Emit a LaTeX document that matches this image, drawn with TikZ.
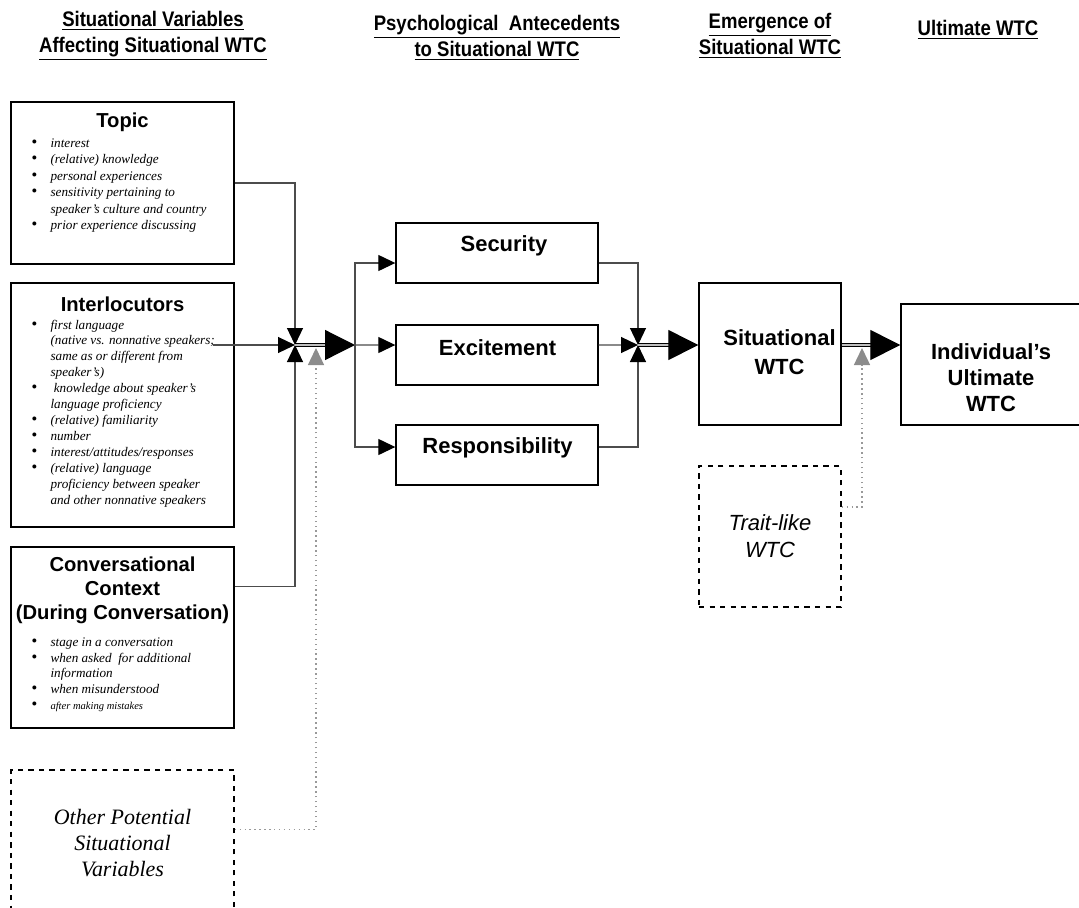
\documentclass[tikz,border=0pt]{standalone}
\usepackage{fontspec}
\setmainfont{Liberation Sans}
\newfontfamily\timesfont[Ligatures=TeX]{Liberation Serif}
\newfontfamily\headfont[FakeStretch=0.88]{Liberation Sans}
\usetikzlibrary{arrows.meta}
\def\bl{{\fontsize{9.5}{9}\selectfont\textbullet}}

\tikzset{
  box/.style={draw, line width=0.8pt, inner sep=0pt},
  dbox/.style={box, dashed},
  con/.style={draw=black!70, line width=0.7pt},
  dotcon/.style={draw=black!40, line width=0.8pt, dotted},
  sm/.style={-{Triangle[length=0.34cm,width=0.32cm,color=black]}},
  smgray/.style={-{Triangle[length=0.34cm,width=0.32cm,color=black!45]}},
  big/.style={draw=black, double=black!25, double distance=0.9pt, line width=0.7pt,
    -{Triangle[length=0.6cm,width=0.6cm,color=black]}},
  head/.style={align=center, font=\headfont\bfseries\fontsize{12}{14.8}\selectfont},
  ttl/.style={align=center, font=\bfseries\fontsize{11.5}{13.7}\selectfont},
  mid/.style={align=center, font=\bfseries\fontsize{12.5}{16.5}\selectfont},
  lst/.style={anchor=base west, inner sep=0pt, font=\timesfont\itshape\fontsize{7.5}{9.1}\selectfont}
}

\begin{document}
\begin{tikzpicture}[x=0.02cm, y=-0.02cm]
\useasboundingbox (0,0) rectangle (1079,907);

%% headings
\node[head] (h-sit) at (153,36) {\underline{Situational Variables}\\\underline{Affecting Situational WTC}};
\node[head] (h-psy) at (497,38) {\underline{Psychological\ \ Antecedents}\\\underline{to Situational WTC}};
\node[head] (h-emg) at (770,36) {\underline{Emergence of}\\\underline{Situational WTC}};
\node[head] (h-ult) at (978,30) {\underline{Ultimate WTC}};

%%% situational variables %%%%
%% boxes
\node[box, minimum width=4.46cm, minimum height=3.24cm] (topic) at (122.5,183) {};
\node[box, minimum width=4.46cm, minimum height=4.88cm] (inter) at (122.5,405) {};
\node[box, minimum width=4.46cm, minimum height=3.62cm] (context) at (122.5,637.5) {};
\node[dbox, minimum width=4.46cm, minimum height=2.92cm, align=center,
  font=\timesfont\itshape\fontsize{12.5}{14.8}\selectfont] (other) at (122.5,843)
  {Other Potential\\Situational\\Variables};

%% labels
\node[ttl] (topic-t) at (122.5,122) {Topic};
\node[lst, font=\timesfont\itshape\fontsize{7.5}{9.4}\selectfont] (topic-l) at (31,147) {\begin{tabular}[t]{@{}l@{\hspace{7.6pt}}l@{}}
\bl & interest\\
\bl & (relative) knowledge\\
\bl & personal experiences\\
\bl & sensitivity pertaining to\\
    & speaker’s culture and country\\
\bl & prior experience discussing
\end{tabular}};

\node[ttl] (inter-t) at (122.5,304) {Interlocutors};
\node[lst] (inter-l) at (31,329) {\begin{tabular}[t]{@{}l@{\hspace{7.6pt}}l@{}}
\bl & first language\\
    & (native vs. nonnative speakers;\\
    & same as or different from\\
    & speaker’s)\\
\bl & \ knowledge about speaker’s\\
    & language proficiency\\
\bl & (relative) familiarity\\
\bl & number\\
\bl & interest/attitudes/responses\\
\bl & (relative) language\\
    & proficiency between speaker\\
    & and other nonnative speakers
\end{tabular}};

\node[ttl] (context-t) at (122.5,590.5) {Conversational\\Context\\(During Conversation)};
\node[lst] (context-l) at (31,646) {\begin{tabular}[t]{@{}l@{\hspace{7.6pt}}l@{}}
\bl & stage in a conversation\\
\bl & when asked\ \ for additional\\
    & information\\
\bl & when misunderstood\\
\bl & {\fontsize{6}{9.1}\selectfont after making mistakes}
\end{tabular}};

%%% antecedents %%%%
\node[box, minimum width=4.04cm, minimum height=1.2cm] (security) at (497,253) {};
\node[box, minimum width=4.04cm, minimum height=1.2cm] (excite) at (497,355) {};
\node[box, minimum width=4.04cm, minimum height=1.2cm] (respons) at (497,455) {};
\node[mid] (security-t) at (504,246) {Security};
\node[mid] (excite-t) at (497.5,348) {Excitement};
\node[mid] (respons-t) at (497.5,448) {Responsibility};

%%% wtc %%%%
\node[box, minimum width=2.84cm, minimum height=2.84cm] (sitwtc) at (770,354) {};
\node[mid] (sitwtc-t) at (779.5,352) {Situational\\WTC};
\node[box, minimum width=3.62cm, minimum height=2.42cm] (ultwtc) at (991.5,364.5) {};
\node[mid, font=\bfseries\fontsize{12.5}{14.8}\selectfont] (ultwtc-t) at (991,378) {Individual’s\\Ultimate\\WTC};
\node[dbox, minimum width=2.84cm, minimum height=2.82cm, align=center,
  font=\itshape\fontsize{12.5}{15.4}\selectfont] (trait) at (770,536.5) {Trait-like\\WTC};

%% junctions
\coordinate (inter-o) at (213,345);
\coordinate (j1) at (295,345);
\coordinate (j1g) at (316,348);
\coordinate (fork) at (355,345);
\coordinate (j2) at (638,345);
\coordinate (j3g) at (862,348);

%% edges
\draw[con, sm] (topic.east) -| (j1);
\draw[con, sm] (inter-o) to (j1);
\draw[con, sm] (context.north east) ++(0,40) -| (j1);
\draw[dotcon, smgray] (other.north east) ++(0,60) -| (j1g);
\draw[big] (j1) to (fork);

\draw[con, sm] (fork) |- ([yshift=-0.2cm]security.west);
\draw[con, sm] (fork) to ([yshift=0.2cm]excite.west);
\draw[con, sm] (fork) |- ([yshift=0.16cm]respons.west);

\draw[con, sm] ([yshift=-0.2cm]security.east) -| (j2);
\draw[con, sm] ([yshift=0.2cm]excite.east) to (j2);
\draw[con, sm] ([yshift=0.16cm]respons.east) -| (j2);
\draw[big] (j2) to (sitwtc.west |- j2);

\draw[big] (sitwtc.east |- j2) to (ultwtc.west |- j2);
\draw[dotcon, smgray] ([yshift=0.59cm]trait.east) -| (j3g);

\end{tikzpicture}
\end{document}
